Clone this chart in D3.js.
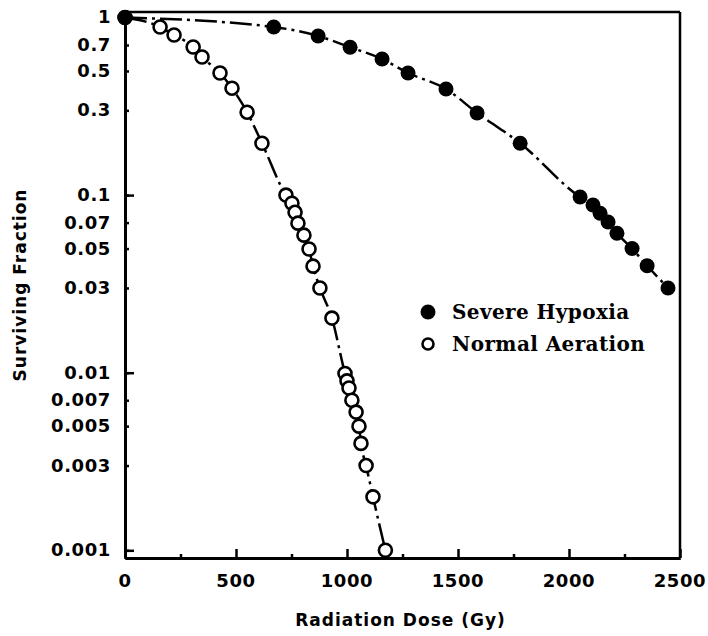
<!DOCTYPE html>
<html>
<head>
<meta charset="utf-8">
<script src="https://cdn.jsdelivr.net/npm/d3@7"></script>
<style>
  body { margin: 0; background: #fff; }
  svg { display: block; }
  .tick-label { font-family: 'DejaVu Sans', sans-serif; font-weight: bold; font-size: 18px; letter-spacing: 0.6px; fill: #000; }
  .axis-title { font-family: 'DejaVu Sans', sans-serif; font-weight: bold; font-size: 17px; letter-spacing: 1px; fill: #000; }
  .legend-label { font-family: 'DejaVu Serif', serif; font-weight: bold; font-size: 20px; letter-spacing: 0.4px; fill: #000; }
</style>
</head>
<body>
<svg id="chart" width="708" height="636"></svg>
<script>
// severe hypoxia (filled circles)
var hypoxiaDose = [0, 670, 870, 1014, 1158, 1275, 1446, 1586, 1780, 2050, 2108, 2140, 2176, 2216, 2284, 2352, 2446]
var hypoxiaSF = [1, 0.884, 0.787, 0.68, 0.584, 0.487, 0.396, 0.29, 0.196, 0.0975, 0.088, 0.079, 0.0705, 0.061, 0.05, 0.04, 0.03]

// normal aeration (open circles)
var aerationDose = [0, 158, 221, 307, 347, 428, 482, 550, 617, 725, 752, 766, 779, 806, 829, 847, 878, 932, 991, 1000, 1009, 1022, 1041, 1054, 1063, 1086, 1117, 1173]
var aerationSF = [1, 0.884, 0.797, 0.682, 0.599, 0.487, 0.40, 0.293, 0.196, 0.1, 0.09, 0.08, 0.0695, 0.0595, 0.0497, 0.0398, 0.03, 0.0203, 0.0099, 0.009, 0.0082, 0.007, 0.006, 0.005, 0.004, 0.003, 0.002, 0.001]

var xMajor = [0, 500, 1000, 1500, 2000, 2500]
var xMinor = [250, 750, 1250, 1750, 2250]
var yMajor = [1, 0.1, 0.01, 0.001]
var yLabels = [1, 0.7, 0.5, 0.3, 0.1, 0.07, 0.05, 0.03, 0.01, 0.007, 0.005, 0.003, 0.001]
var yLabelText = ['1', '0.7', '0.5', '0.3', '0.1', '0.07', '0.05', '0.03', '0.01', '0.007', '0.005', '0.003', '0.001']

var seriesNames = ['Severe Hypoxia', 'Normal Aeration']

;(function () {
  var svg = d3.select('#chart')
  var pad = {left: 125, right: 680, top: 12, bottom: 558}

  var x = d3.scaleLinear().domain([0, 2500]).range([pad.left, pad.right])
  var y = d3.scaleLog().domain([0.000905, 1.074]).range([pad.bottom, pad.top])

  var hypoxia = hypoxiaDose.map((d, i) => ({x: d, y: hypoxiaSF[i]}))
  var aeration = aerationDose.map((d, i) => ({x: d, y: aerationSF[i]}))

  /*
      frame
  */
  svg.append('line').attr('x1', pad.left).attr('x2', pad.right).attr('y1', pad.top).attr('y2', pad.top)
      .attr('stroke', '#000').attr('stroke-width', 2.5)
  svg.append('line').attr('x1', pad.right).attr('x2', pad.right).attr('y1', pad.top).attr('y2', pad.bottom)
      .attr('stroke', '#000').attr('stroke-width', 2.5)

  /*
      axes, ticks pointing inward
  */
  var xAxis = d3.axisBottom(x).tickValues(xMajor).tickSize(-9).tickSizeOuter(0).tickFormat('')
  var xAxisMinor = d3.axisBottom(x).tickValues(xMinor).tickSize(-4).tickSizeOuter(0).tickFormat('')
  var yAxis = d3.axisLeft(y).tickValues(yLabels).tickSize(-4).tickSizeOuter(0).tickFormat('')
  var yAxisMajor = d3.axisLeft(y).tickValues(yMajor).tickSize(-9).tickSizeOuter(0).tickFormat('')

  function styleAxis (g) {
    g.select('.domain').attr('stroke-width', 3).attr('stroke', '#000')
    g.selectAll('.tick line').attr('stroke-width', 2.5).attr('stroke', '#000')
  }

  svg.append('g').attr('transform', `translate(0,${pad.bottom})`).call(xAxisMinor).call(styleAxis)
  svg.append('g').attr('transform', `translate(0,${pad.bottom})`).call(xAxis).call(styleAxis)
  svg.append('g').attr('transform', `translate(${pad.left},0)`).call(yAxis).call(styleAxis)
  svg.append('g').attr('transform', `translate(${pad.left},0)`).call(yAxisMajor).call(styleAxis)

  // tick labels
  svg.append('g').selectAll('text')
      .data(xMajor)
      .enter().append('text')
      .classed('tick-label', true)
      .attr('x', d => x(d))
      .attr('y', pad.bottom + 29)
      .attr('text-anchor', 'middle')
      .text(d => d)

  svg.append('g').selectAll('text')
      .data(yLabels)
      .enter().append('text')
      .classed('tick-label', true)
      .attr('x', pad.left - 14)
      .attr('y', d => y(d))
      .attr('dy', '0.33em')
      .attr('text-anchor', 'end')
      .text((d, i) => yLabelText[i])

  // axis titles
  svg.append('text')
      .classed('axis-title', true)
      .attr('x', (pad.left + pad.right) / 2 - 2)
      .attr('y', 626)
      .attr('text-anchor', 'middle')
      .text('Radiation Dose (Gy)')

  svg.append('text')
      .classed('axis-title', true)
      .attr('transform', `translate(26,${(pad.top + pad.bottom) / 2}) rotate(-90)`)
      .attr('text-anchor', 'middle')
      .text('Surviving Fraction')

  /*
      curves
  */
  var line = d3.line()
      .x(d => x(d.x))
      .y(d => y(d.y))
      .curve(d3.curveMonotoneX)

  svg.append('path')
      .datum(hypoxia)
      .attr('d', line)
      .attr('fill', 'none')
      .attr('stroke', '#000')
      .attr('stroke-width', 2.5)
      .attr('stroke-dasharray', '22,5,3,5')

  svg.append('path')
      .datum(aeration)
      .attr('d', line)
      .attr('fill', 'none')
      .attr('stroke', '#000')
      .attr('stroke-width', 2.5)
      .attr('stroke-dasharray', '22,5,3,5')

  /*
      markers
  */
  svg.append('g').selectAll('circle')
      .data(aeration)
      .enter().append('circle')
      .attr('cx', d => x(d.x))
      .attr('cy', d => y(d.y))
      .attr('r', 6.5)
      .attr('fill', '#fff')
      .attr('stroke', '#000')
      .attr('stroke-width', 2.6)

  svg.append('g').selectAll('circle')
      .data(hypoxia)
      .enter().append('circle')
      .attr('cx', d => x(d.x))
      .attr('cy', d => y(d.y))
      .attr('r', 7.5)
      .attr('fill', '#000')

  /*
      legend
  */
  var legend = svg.append('g').attr('transform', 'translate(428,312)')
  var items = legend.selectAll('g')
      .data(seriesNames)
      .enter().append('g')
      .attr('transform', (d, i) => `translate(0,${i * 32})`)

  items.append('circle')
      .attr('r', (d, i) => i === 0 ? 7.5 : 5.5)
      .attr('fill', (d, i) => i === 0 ? '#000' : '#fff')
      .attr('stroke', '#000')
      .attr('stroke-width', (d, i) => i === 0 ? 0 : 2.6)

  items.append('text')
      .classed('legend-label', true)
      .attr('x', 24)
      .attr('dy', '0.36em')
      .text(d => d)
})()
</script>
</body>
</html>
